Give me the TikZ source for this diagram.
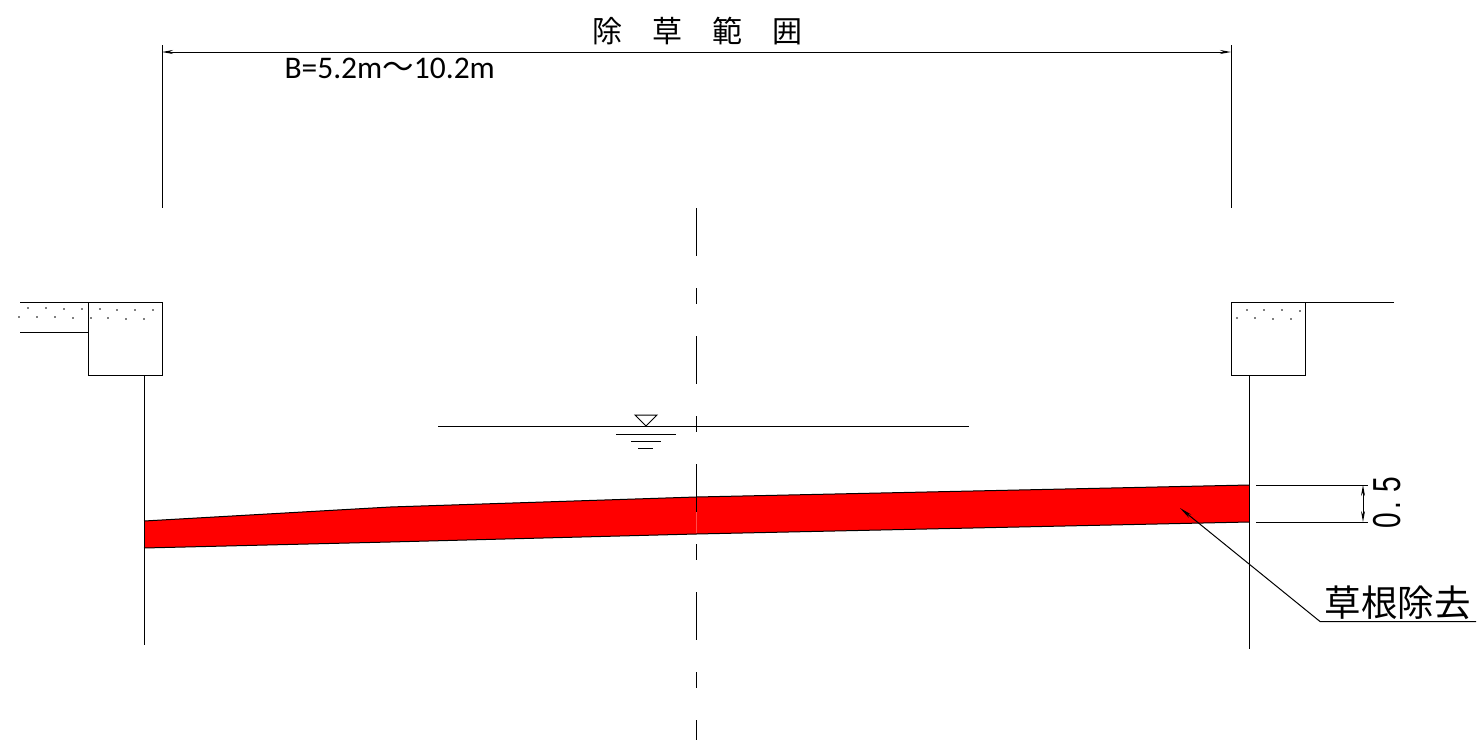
\documentclass[tikz,border=0pt]{standalone}
\usepackage{fontspec}
\setmainfont{Carlito}
\newfontfamily\cjk{Noto Sans CJK JP}
\newfontfamily\dimfont{Liberation Sans}
\usetikzlibrary{arrows.meta}
\tikzset{
  dimline/.style={{Stealth[length=11pt,width=4pt]}-{Stealth[length=11pt,width=4pt]}},
  centerline/.style={dash pattern=on 48pt off 32pt on 16pt off 32pt}
}
\begin{document}
\begin{tikzpicture}[x=1pt,y=-1pt,line width=1pt]
\useasboundingbox (0,0) rectangle (1478,740);
\fill[red] (144,521) -- (390,507) -- (696,497) -- (1249,485) -- (1249,522) -- (696,534) -- (390,542) -- (144,548) -- cycle;
\draw (144,521) -- (390,507) -- (696,497) -- (1249,485);
\draw (144,548) -- (390,542) -- (696,534) -- (1249,522);
\draw[centerline] (696,208) -- (696,740);
\draw[red!70!white] (696,512) -- (696,533);
\draw (162,45) -- (162,208);
\draw (1231,45) -- (1231,208);
\draw[dimline] (162,52) -- (1231,52);
\node[inner sep=0pt] (title) at (697.5,31) {\cjk\fontsize{30}{36}\selectfont 除\hspace{30pt}草\hspace{30pt}範\hspace{30pt}囲};
\node[anchor=west,inner sep=0pt] (width) at (284,68) {\fontsize{31.5}{38}\selectfont B=5.2m{\cjk 〜}10.2m};
\draw (20,302) -- (162,302) -- (162,375) -- (88,375) -- (88,302);
\draw (20,332) -- (88,332);
\draw (144,375) -- (144,645);
\draw (1394,302) -- (1231,302) -- (1231,375) -- (1305,375) -- (1305,302);
\draw (1249,375) -- (1249,649);
\foreach \px/\py in {28/308,46/308,64/309,82/309,100/309,117/310,135/310,153/310,19/317,37/317,55/317,73/318,91/318,108/318,126/319,144/319,1247/310,1264/310,1282/310,1300/311,1237/318,1255/318,1273/319,1291/319}
  \fill[gray] (\px-0.8,\py-0.8) rectangle (\px+0.8,\py+0.8);
\draw (438,426) -- (969,426);
\draw (635,415) -- (657,415) -- (646,426) -- cycle;
\draw (616,434) -- (676,434);
\draw (631,441) -- (661,441);
\draw (638,448) -- (653,448);
\draw (1256,485) -- (1368,485);
\draw (1256,522) -- (1368,522);
\draw[dimline] (1363,485) -- (1363,522);
\node[rotate=90,xscale=.72,inner sep=0pt] (depth) at (1387.5,502.5) {\dimfont\fontsize{39}{39}\selectfont 0\hspace{4pt}.\hspace{13pt}5};
\coordinate (leaderstart) at (1180,508);
\coordinate (leaderbend) at (1320,621.5);
\coordinate (leaderend) at (1476,621.5);
\draw[{Stealth[length=13pt,width=4pt]}-] (leaderstart) -- (leaderbend) -- (leaderend);
\node[anchor=south west,inner sep=0pt] (rootlabel) at (1324,620) {\cjk\fontsize{36.5}{36.5}\selectfont 草根除去};
\end{tikzpicture}
\end{document}
